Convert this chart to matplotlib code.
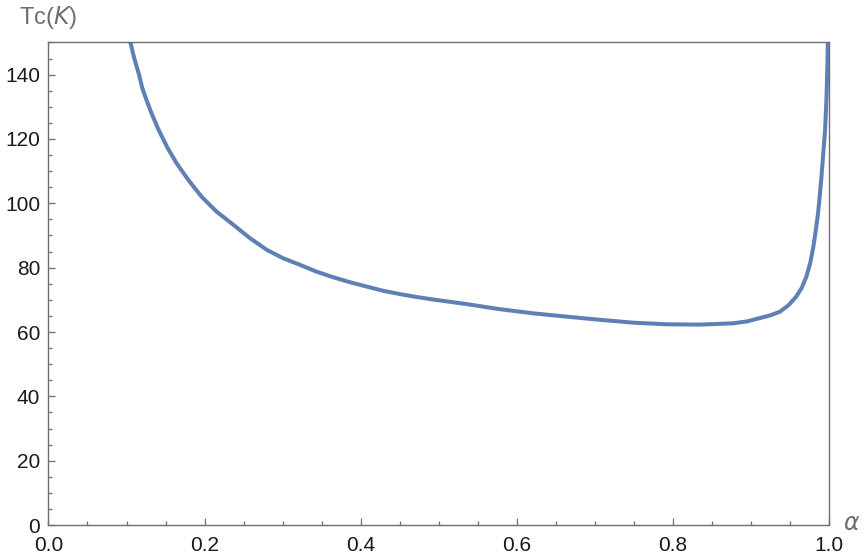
import matplotlib.pyplot as plt
from matplotlib.ticker import MultipleLocator

# values
alpha = [0.105, 0.110, 0.116, 0.120, 0.125, 0.132, 0.141, 0.152, 0.164,
         0.180, 0.196, 0.215, 0.237, 0.258, 0.280, 0.300, 0.322, 0.343,
         0.365, 0.386, 0.408, 0.429, 0.450, 0.471, 0.493, 0.535, 0.578,
         0.621, 0.663, 0.706, 0.749, 0.792, 0.835, 0.877, 0.895, 0.911,
         0.925, 0.937, 0.948, 0.958, 0.965, 0.971, 0.976, 0.980, 0.983,
         0.986, 0.988, 0.990, 0.9925, 0.995, 0.9968, 0.998, 0.9985]
tc = [150, 145, 140, 136, 132.5, 128, 122.9, 117.5, 112.5,
      107, 102.1, 97.5, 93.3, 89.2, 85.5, 83.0, 80.9, 78.8,
      77.0, 75.5, 74.1, 72.8, 71.8, 70.9, 70.1, 68.7, 67.1,
      65.8, 64.8, 63.8, 62.9, 62.4, 62.3, 62.7, 63.3, 64.3,
      65.2, 66.3, 68.3, 71.0, 73.7, 77.2, 81.5, 86.6, 91.5,
      97.0, 102, 107.3, 115, 122.9, 133, 143.6, 150]

x_ticks = [0.0, 0.2, 0.4, 0.6, 0.8, 1.0]
y_ticks = [0, 20, 40, 60, 80, 100, 120, 140]

plt.rcParams['font.family'] = ['Liberation Sans', 'DejaVu Sans']

fig = plt.figure(figsize=(8.64, 5.59), dpi=100)
ax = fig.add_axes([0.0561, 0.0608, 0.9034, 0.8632])

ax.plot(alpha, tc, color='#5e81b5', lw=2.9, solid_joinstyle='round')

ax.set_xlim(0, 1)
ax.set_ylim(0, 150)
ax.set_xticks(x_ticks)
ax.set_xticklabels(['%.1f' % v for v in x_ticks])
ax.set_yticks(y_ticks)
ax.xaxis.set_minor_locator(MultipleLocator(0.05))
ax.yaxis.set_minor_locator(MultipleLocator(5))

for s in ax.spines.values():
    s.set_color('#6e6e6e')
    s.set_linewidth(1.0)

ax.tick_params(which='both', direction='in', color='#6e6e6e', width=0.9,
               labelsize=15, labelcolor='#1a1a1a')
ax.tick_params(which='major', length=5)
ax.tick_params(which='minor', length=3)
ax.tick_params(axis='y', pad=6)
ax.tick_params(axis='x', pad=8)

fig.text(0.022, 0.968, r'Tc($K$)', fontsize=17, color='#6e6e6e',
         ha='left', va='center')
fig.text(0.976, 0.063, r'$\alpha$', fontsize=17, color='#6e6e6e',
         ha='left', va='center')

fig.savefig('out.png', dpi=100)
